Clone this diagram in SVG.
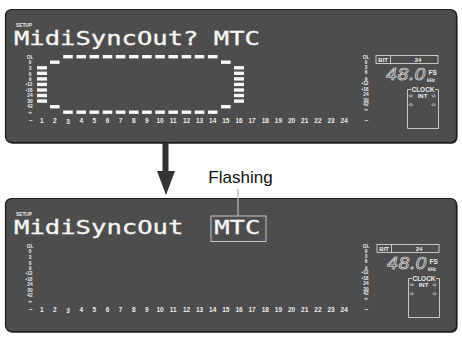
<svg xmlns="http://www.w3.org/2000/svg" width="462" height="338" viewBox="0 0 462 338">
<style>
.shadow{fill:#1f1f1f}
.panel{fill:#4d4d4d;stroke:#1c1c1c;stroke-width:1.2}
.lcd{font-family:"DejaVu Sans Mono","Liberation Mono",monospace;font-size:19px;fill:#f7f7f7;stroke:#f7f7f7;stroke-width:0.3}
.sm{font-family:"Liberation Sans",Arial,sans-serif;font-weight:bold;fill:#ececec}
.num{font-size:6.5px;text-anchor:middle}
.sc{font-size:4.8px;text-anchor:middle}
.lbl{font-size:6px}
.seg{fill:#f7f7f7}
.box{fill:none;stroke:#e6e6e6;stroke-width:0.8}
.sev{font-family:"DejaVu Sans","Liberation Sans",sans-serif;font-style:italic;font-size:16.5px;fill:none;stroke:#f2f2f2;stroke-width:0.6}
.mark{fill:none;stroke:#eeeeee;stroke-width:0.6}
.conn{fill:#333333}
.lead{stroke:#b5b5b5;stroke-width:1.3;fill:none}
</style>
<rect width="462" height="338" fill="#ffffff"/>

<g id="panel-top">
<rect class="shadow" x="6.5" y="10.8" width="451" height="133" rx="6"/>
<rect class="panel" x="5.5" y="9.5" width="451" height="133" rx="6"/>
<text class="sm" x="16" y="26.6" font-size="4.8">SETUP</text>
<text class="lcd" x="14" y="45" textLength="246" lengthAdjust="spacingAndGlyphs">MidiSyncOut? MTC</text>
<text class="sm sc"><tspan x="30" y="59.3">OL</tspan><tspan x="30" y="64.3">0</tspan><tspan x="30" y="70.3">3</tspan><tspan x="30" y="75.5">6</tspan><tspan x="30" y="80.8">9</tspan><tspan x="29" y="86.2">•12</tspan><tspan x="29" y="91.8">•18</tspan><tspan x="30" y="97.3">24</tspan><tspan x="30" y="102.8">30</tspan><tspan x="30" y="108.3">42</tspan><tspan x="30" y="113.8">∞</tspan></text>
<text class="sm sc"><tspan x="366" y="59.3">OL</tspan><tspan x="366" y="64.3">0</tspan><tspan x="366" y="69.3">3</tspan><tspan x="366" y="73.5">6</tspan><tspan x="366" y="80.8">9</tspan><tspan x="365" y="85.2">•12</tspan><tspan x="365" y="91.2">•18</tspan><tspan x="366" y="96.3">24</tspan><tspan x="366" y="101.8">30</tspan><tspan x="366" y="106">42</tspan><tspan x="366" y="111">∞</tspan></text>
<text class="sm num"><tspan x="31" y="123.3">−</tspan><tspan x="41.7" y="123.3">1</tspan><tspan x="54.9" y="123.3">2</tspan><tspan x="68" y="124.3">3</tspan><tspan x="81.2" y="122.7">4</tspan><tspan x="94.3" y="123.3">5</tspan><tspan x="107.5" y="123.3">6</tspan><tspan x="120.6" y="123.3">7</tspan><tspan x="133.8" y="123.3">8</tspan><tspan x="146.9" y="123.3">9</tspan><tspan x="160" y="123.3">10</tspan><tspan x="173.3" y="123.3">11</tspan><tspan x="186.5" y="123.3">12</tspan><tspan x="199.5" y="123.3">13</tspan><tspan x="212.7" y="123.3">14</tspan><tspan x="225.8" y="123.3">15</tspan><tspan x="239" y="123.3">16</tspan><tspan x="252.1" y="123.3">17</tspan><tspan x="265.3" y="123.3">18</tspan><tspan x="278.4" y="123.3">19</tspan><tspan x="291.6" y="123.3">20</tspan><tspan x="304.7" y="123.3">21</tspan><tspan x="317.9" y="123.3">22</tspan><tspan x="331" y="123.3">23</tspan><tspan x="344.2" y="123.3">24</tspan><tspan x="366.7" y="123.3">−</tspan></text>
<g id="meter-top">
<rect class="seg" x="37" y="66.1" width="10" height="3.4"/><rect class="seg" x="37" y="71.6" width="10" height="3.4"/><rect class="seg" x="37" y="77.2" width="10" height="3.4"/><rect class="seg" x="37" y="82.7" width="10" height="3.4"/><rect class="seg" x="37" y="88.3" width="10" height="3.4"/><rect class="seg" x="37" y="93.8" width="10" height="3.4"/><rect class="seg" x="37" y="99.4" width="10" height="3.4"/>
<rect class="seg" x="234" y="66.1" width="10" height="3.4"/><rect class="seg" x="234" y="71.6" width="10" height="3.4"/><rect class="seg" x="234" y="77.2" width="10" height="3.4"/><rect class="seg" x="234" y="82.7" width="10" height="3.4"/><rect class="seg" x="234" y="88.3" width="10" height="3.4"/><rect class="seg" x="234" y="93.8" width="10" height="3.4"/><rect class="seg" x="234" y="99.4" width="10" height="3.4"/>
<rect class="seg" x="50" y="60.5" width="9.6" height="3.4"/><rect class="seg" x="50" y="105" width="9.6" height="3.4"/>
<rect class="seg" x="221" y="60.5" width="9.6" height="3.4"/><rect class="seg" x="221" y="105" width="9.6" height="3.4"/>
<rect class="seg" x="63.2" y="55" width="9.6" height="3.4"/><rect class="seg" x="76.4" y="55" width="9.6" height="3.4"/><rect class="seg" x="89.5" y="55" width="9.6" height="3.4"/><rect class="seg" x="102.7" y="55" width="9.6" height="3.4"/><rect class="seg" x="115.8" y="55" width="9.6" height="3.4"/><rect class="seg" x="129" y="55" width="9.6" height="3.4"/><rect class="seg" x="142.1" y="55" width="9.6" height="3.4"/><rect class="seg" x="155.3" y="55" width="9.6" height="3.4"/><rect class="seg" x="168.4" y="55" width="9.6" height="3.4"/><rect class="seg" x="181.6" y="55" width="9.6" height="3.4"/><rect class="seg" x="194.7" y="55" width="9.6" height="3.4"/><rect class="seg" x="207.9" y="55" width="9.6" height="3.4"/>
<rect class="seg" x="63.2" y="110.5" width="9.6" height="3.4"/><rect class="seg" x="76.4" y="110.5" width="9.6" height="3.4"/><rect class="seg" x="89.5" y="110.5" width="9.6" height="3.4"/><rect class="seg" x="102.7" y="110.5" width="9.6" height="3.4"/><rect class="seg" x="115.8" y="110.5" width="9.6" height="3.4"/><rect class="seg" x="129" y="110.5" width="9.6" height="3.4"/><rect class="seg" x="142.1" y="110.5" width="9.6" height="3.4"/><rect class="seg" x="155.3" y="110.5" width="9.6" height="3.4"/><rect class="seg" x="168.4" y="110.5" width="9.6" height="3.4"/><rect class="seg" x="181.6" y="110.5" width="9.6" height="3.4"/><rect class="seg" x="194.7" y="110.5" width="9.6" height="3.4"/><rect class="seg" x="207.9" y="110.5" width="9.6" height="3.4"/>
</g>
<rect class="box" x="376" y="55.5" width="62" height="8"/>
<line class="box" x1="390.5" y1="55.5" x2="390.5" y2="63.5"/>
<text class="sm lbl" x="383.2" y="61.8" text-anchor="middle">BIT</text>
<text class="sm lbl" x="418" y="61.8" text-anchor="middle">24</text>
<text class="sev" x="386" y="80" textLength="40" lengthAdjust="spacingAndGlyphs">48.0</text>
<text class="sm" x="428.5" y="74.5" font-size="6.5">FS</text>
<text class="sm" x="427" y="81.5" font-size="4.5">kHz</text>
<path class="box" d="M411,89.5 H407.5 V128.5 H438.5 V89.5 H435"/>
<text class="sm" x="423" y="92" font-size="6.5" text-anchor="middle">CLOCK</text>
<text class="sm" x="422.5" y="98" font-size="6" text-anchor="middle">INT</text>
<ellipse class="mark" cx="410.8" cy="95.8" rx="1.8" ry="0.9"/><ellipse class="mark" cx="433.6" cy="95.8" rx="1.8" ry="0.9"/>
<ellipse class="mark" cx="410.8" cy="104.7" rx="1.8" ry="0.9"/><ellipse class="mark" cx="433.6" cy="104.7" rx="1.8" ry="0.9"/>
</g>

<g id="panel-bottom">
<rect class="shadow" x="6.5" y="199.8" width="451" height="133" rx="6"/>
<rect class="panel" x="5.5" y="198.5" width="451" height="133" rx="6"/>
<text class="sm" x="16" y="215.6" font-size="4.8">SETUP</text>
<text class="lcd" x="14" y="234" textLength="169.4" lengthAdjust="spacingAndGlyphs">MidiSyncOut</text>
<rect class="box" x="211" y="216" width="55" height="25.5" stroke-width="1"/>
<text class="lcd" x="214.2" y="234" textLength="46.2" lengthAdjust="spacingAndGlyphs">MTC</text>
<text class="sm sc"><tspan x="30" y="248.3">OL</tspan><tspan x="30" y="253.3">0</tspan><tspan x="30" y="259.3">3</tspan><tspan x="30" y="264.5">6</tspan><tspan x="30" y="269.8">9</tspan><tspan x="29" y="275.2">•12</tspan><tspan x="29" y="280.8">•18</tspan><tspan x="30" y="286.3">24</tspan><tspan x="30" y="291.8">30</tspan><tspan x="30" y="297.3">42</tspan><tspan x="30" y="302.8">∞</tspan></text>
<text class="sm sc"><tspan x="366" y="248.3">OL</tspan><tspan x="366" y="253.3">0</tspan><tspan x="366" y="258.3">3</tspan><tspan x="366" y="262.5">6</tspan><tspan x="366" y="269.8">9</tspan><tspan x="365" y="274.2">•12</tspan><tspan x="365" y="280.2">•18</tspan><tspan x="366" y="285.3">24</tspan><tspan x="366" y="290.8">30</tspan><tspan x="366" y="295">42</tspan><tspan x="366" y="300">∞</tspan></text>
<text class="sm num"><tspan x="31" y="312.3">−</tspan><tspan x="41.7" y="312.3">1</tspan><tspan x="54.9" y="312.3">2</tspan><tspan x="68" y="313.3">3</tspan><tspan x="81.2" y="311.7">4</tspan><tspan x="94.3" y="312.3">5</tspan><tspan x="107.5" y="312.3">6</tspan><tspan x="120.6" y="312.3">7</tspan><tspan x="133.8" y="312.3">8</tspan><tspan x="146.9" y="312.3">9</tspan><tspan x="160" y="312.3">10</tspan><tspan x="173.3" y="312.3">11</tspan><tspan x="186.5" y="312.3">12</tspan><tspan x="199.5" y="312.3">13</tspan><tspan x="212.7" y="312.3">14</tspan><tspan x="225.8" y="312.3">15</tspan><tspan x="239" y="312.3">16</tspan><tspan x="252.1" y="312.3">17</tspan><tspan x="265.3" y="312.3">18</tspan><tspan x="278.4" y="312.3">19</tspan><tspan x="291.6" y="312.3">20</tspan><tspan x="304.7" y="312.3">21</tspan><tspan x="317.9" y="312.3">22</tspan><tspan x="331" y="312.3">23</tspan><tspan x="344.2" y="312.3">24</tspan><tspan x="366.7" y="312.3">−</tspan></text>
<rect class="box" x="377" y="244.5" width="62" height="8"/>
<line class="box" x1="391.5" y1="244.5" x2="391.5" y2="252.5"/>
<text class="sm lbl" x="384.2" y="250.8" text-anchor="middle">BIT</text>
<text class="sm lbl" x="419" y="250.8" text-anchor="middle">24</text>
<text class="sev" x="387" y="269" textLength="40" lengthAdjust="spacingAndGlyphs">48.0</text>
<text class="sm" x="429.5" y="263.5" font-size="6.5">FS</text>
<text class="sm" x="428" y="270.5" font-size="4.5">kHz</text>
<path class="box" d="M412,278.5 H408.5 V317.5 H439.5 V278.5 H436"/>
<text class="sm" x="424" y="281" font-size="6.5" text-anchor="middle">CLOCK</text>
<text class="sm" x="423.5" y="287" font-size="6" text-anchor="middle">INT</text>
<ellipse class="mark" cx="411.8" cy="284.8" rx="1.8" ry="0.9"/><ellipse class="mark" cx="434.6" cy="284.8" rx="1.8" ry="0.9"/>
<ellipse class="mark" cx="411.8" cy="293.7" rx="1.8" ry="0.9"/><ellipse class="mark" cx="434.6" cy="293.7" rx="1.8" ry="0.9"/>
</g>

<g id="label-flashing">
<text x="240.5" y="182.5" font-family="'Liberation Sans',Arial,sans-serif" font-size="17" text-anchor="middle" fill="#111111">Flashing</text>
</g>

<g id="connectors">
<rect class="conn" x="162.5" y="143" width="6" height="28.5"/>
<polygon class="conn" points="157,171 175,171 166,195"/>
<line class="lead" x1="238" y1="189" x2="238" y2="216"/>
</g>
</svg>
